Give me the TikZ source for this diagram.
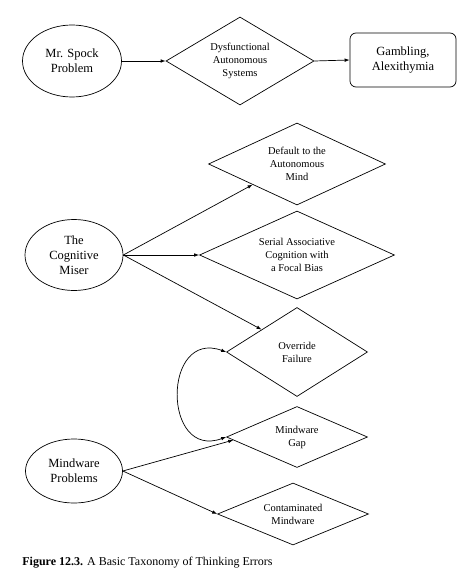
\documentclass[tikz,border=0pt]{standalone}
\usepackage{fontspec}
\setmainfont{Liberation Serif}
\usetikzlibrary{shapes.geometric,arrows.meta,calc}
\begin{document}
\begin{tikzpicture}[x=1pt,y=-1pt,
  line width=0.7pt,
  arr/.style={-{Latex[length=5pt,width=3.6pt]}},
  ell/.style={ellipse,draw,inner sep=0pt,align=center,font=\fontsize{12.5}{15}\selectfont},
  dia/.style={diamond,draw,inner sep=0pt,align=center,font=\fontsize{10.5}{13}\selectfont},
  rbox/.style={rectangle,draw,rounded corners=6pt,inner sep=0pt,align=center,font=\fontsize{12.5}{15}\selectfont}]
\useasboundingbox (0,0) rectangle (475,583);
% top row
\node[ell,minimum width=99pt,minimum height=72pt] (spock) at (72,61) {Mr. Spock\\Problem};
\node[dia,aspect=1.68,minimum width=148pt,minimum height=88pt] (dys) at (240,61) {Dysfunctional\\Autonomous\\Systems};
\node[rbox,minimum width=106pt,minimum height=54pt] (gam) at (403,60) {Gambling,\\Alexithymia};
\draw[arr] (spock.east) -- (dys.west);
\draw[arr] (dys.east) -- (gam.west);
% cognitive miser
\node[ell,minimum width=98pt,minimum height=71pt] (miser) at (74,255) {The\\Cognitive\\Miser};
\node[dia,aspect=2.16,minimum width=177pt,minimum height=82pt] (def) at (297,164) {Default to the\\Autonomous\\Mind};
\node[dia,aspect=2.2,minimum width=195pt,minimum height=88pt] (ser) at (297,255) {Serial Associative\\Cognition with\\a Focal Bias};
\node[dia,aspect=1.58,minimum width=141pt,minimum height=89pt] (fail) at (297,352) {Override\\Failure};
\draw[arr] (miser.east) -- (def.south west);
\draw[arr] (miser.east) -- (ser.west);
\draw[arr] (miser.east) -- (fail.north west);
% mindware problems
\node[ell,minimum width=97pt,minimum height=64pt] (mwp) at (74,471) {Mindware\\Problems};
\node[dia,aspect=2.3,minimum width=141pt,minimum height=61pt] (gap) at (297,437) {Mindware\\Gap};
\node[dia,aspect=2.4,minimum width=151pt,minimum height=62pt] (cont) at (293,514) {Contaminated\\Mindware};
\coordinate (gapin) at ($(gap.west)!0.1!(gap.south)$);
\draw[arr] (mwp.east) -- (gapin);
\draw[arr] (mwp.east) -- (cont.west);
\draw[{Latex[length=5pt,width=3.6pt]}-{Latex[length=5pt,width=3.6pt]}] (fail.west) .. controls +(200:68) and +(160:68) .. (gap.west);
% caption
\node[anchor=base west,inner sep=0pt,font=\fontsize{12}{14}\selectfont] (cap) at (22,565) {\textbf{Figure 12.3.} A Basic Taxonomy of Thinking Errors};
\end{tikzpicture}
\end{document}
